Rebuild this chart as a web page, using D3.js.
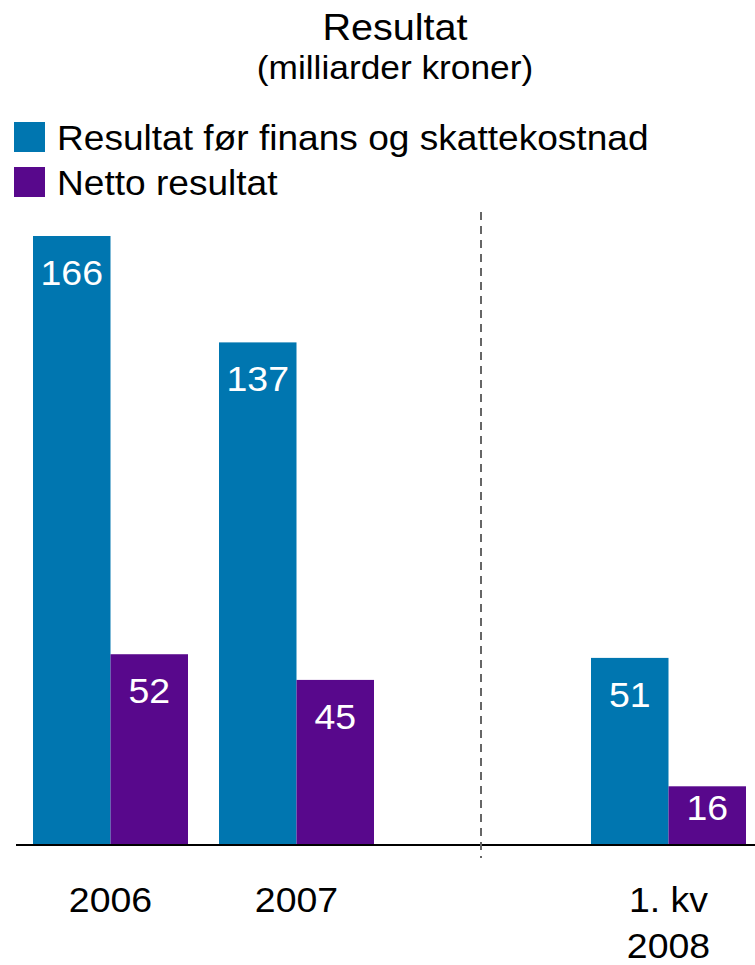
<!DOCTYPE html>
<html>
<head>
<meta charset="utf-8">
<script src="https://cdn.jsdelivr.net/npm/d3@7"></script>
<style>
  body { margin: 0; background: #fff; }
  text { font-family: "Liberation Sans", Arial, sans-serif; }
</style>
</head>
<body>
<script>
// data
const categories = ["2006", "2007", "gap", "1. kv\n2008"];
const seriesNames = ["Resultat før finans og skattekostnad", "Netto resultat"];
const resultatFor = [166, 137, null, 51];
const nettoResultat = [52, 45, null, 16];
const colors = ["#0076b0", "#58088c"];

const width = 755;
const height = 965;
const baseline = 845;

const svg = d3.select("body").append("svg")
    .attr("width", width)
    .attr("height", height)
    .attr("viewBox", [0, 0, width, height]);

// helper for text, the reference text is a bit wide so it gets stretched
function label(x, y, txt, size, anchor, fill, stretch) {
  return svg.append("text")
      .attr("transform", `translate(${x},${y}) scale(${stretch || 1.07},1)`)
      .attr("text-anchor", anchor)
      .attr("font-size", size)
      .attr("fill", fill || "#000")
      .text(txt);
}

// scales
const x = d3.scaleBand()
    .domain(categories)
    .range([33, 746])
    .paddingInner(31 / 186)
    .paddingOuter(0);

const xInner = d3.scaleBand()
    .domain([0, 1])
    .range([0, x.bandwidth()])
    .padding(0);

const y = d3.scaleLinear()
    .domain([0, 166])
    .range([baseline, 236]);

const rows = categories.map((c, i) => ({ cat: c, values: [resultatFor[i], nettoResultat[i]] }))
    .filter(d => d.values[0] !== null);

// bars
const groups = svg.selectAll(".group")
    .data(rows)
    .enter()
    .append("g")
    .attr("class", "group")
    .attr("transform", d => `translate(${x(d.cat)},0)`);

groups.selectAll("rect")
    .data(d => d.values.map((v, k) => ({ k, v })))
    .enter()
    .append("rect")
    .attr("x", d => xInner(d.k))
    .attr("y", d => y(d.v))
    .attr("width", xInner.bandwidth())
    .attr("height", d => baseline - y(d.v))
    .attr("fill", d => colors[d.k]);

// value labels (short bars get the label pushed down)
rows.forEach(r => {
  r.values.forEach((v, k) => {
    const cx = x(r.cat) + xInner(k) + xInner.bandwidth() / 2;
    const ty = Math.min(y(v) + 49, baseline - 25);
    label(cx, ty, v, 35, "middle", "#fff");
  });
});

// axis line
svg.append("line")
    .attr("x1", 16)
    .attr("x2", width)
    .attr("y1", baseline)
    .attr("y2", baseline)
    .attr("stroke", "#000")
    .attr("stroke-width", 2);

// dashed separator in the empty slot
const sepX = x("gap") + x.bandwidth() / 2 - 1.5;
svg.append("line")
    .attr("x1", sepX)
    .attr("x2", sepX)
    .attr("y1", 212)
    .attr("y2", 858)
    .attr("stroke", "#666")
    .attr("stroke-width", 2)
    .attr("stroke-dasharray", "8,6");

// category labels
categories.forEach(c => {
  if (c === "gap") return;
  const lines = c.split("\n");
  lines.forEach((t, i) => {
    label(x(c) + x.bandwidth() / 2, 912 + i * 46, t, 35, "middle");
  });
});

// title
label(395, 40, "Resultat", 37, "middle");
label(395, 79, "(milliarder kroner)", 33, "middle");

// legend
seriesNames.forEach((s, i) => {
  svg.append("rect")
      .attr("x", 14)
      .attr("y", 122 + i * 45)
      .attr("width", 31)
      .attr("height", 30)
      .attr("fill", colors[i]);
  label(57, 150 + i * 45, s, 35, "start", "#000", 1.06);
});
</script>
</body>
</html>
